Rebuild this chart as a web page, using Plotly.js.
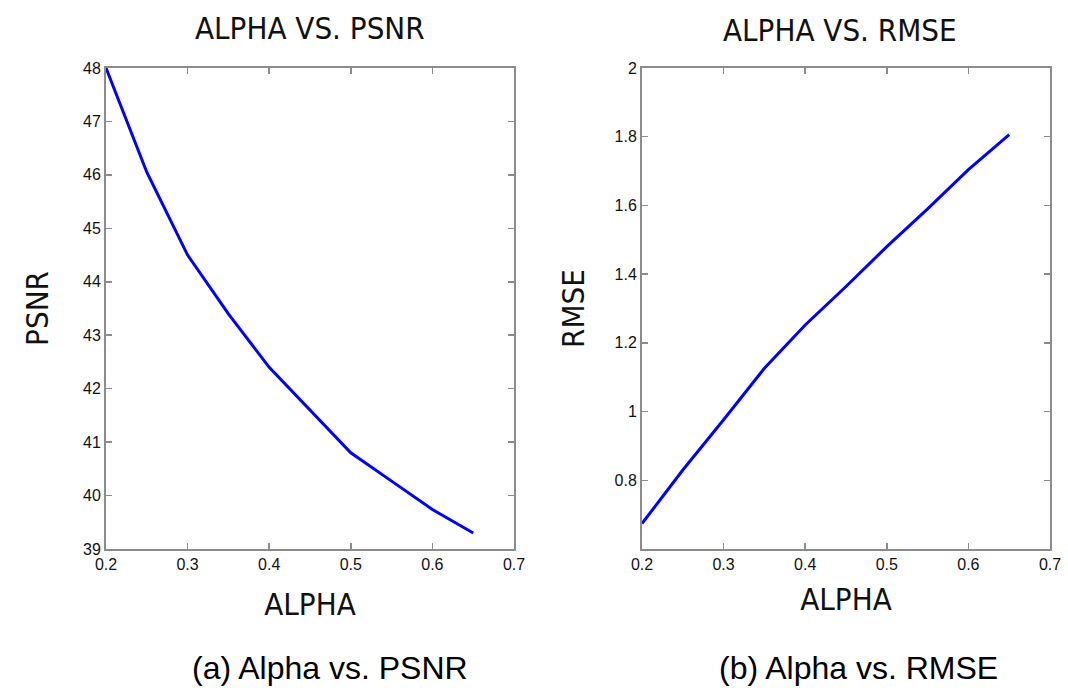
<!DOCTYPE html>
<html>
<head>
<meta charset="utf-8">
<script src="https://cdn.plot.ly/plotly-3.0.1.min.js"></script>
<style>html,body{margin:0;padding:0;background:#fff;}#chart{width:1068px;height:694px;}</style>
</head>
<body>
<div id="chart"></div>
<script>
const alpha = [0.2, 0.25, 0.3, 0.35, 0.4, 0.45, 0.5, 0.55, 0.6, 0.65];
const psnr = [48.0, 46.05, 44.5, 43.4, 42.4, 41.6, 40.8, 40.27, 39.74, 39.3];
const rmse = [0.674, 0.83, 0.976, 1.126, 1.252, 1.364, 1.48, 1.59, 1.704, 1.806];
const xTicks = [0.2, 0.3, 0.4, 0.5, 0.6, 0.7];
const psnrTicks = [39, 40, 41, 42, 43, 44, 45, 46, 47, 48];
const rmseTicks = [0.8, 1, 1.2, 1.4, 1.6, 1.8, 2];
const titles = ["ALPHA VS. PSNR", "ALPHA VS. RMSE"];
const captions = ["(a) Alpha vs. PSNR", "(b) Alpha vs. RMSE"];

const narrow = "DejaVu Sans Condensed, Liberation Sans Narrow, Liberation Sans, sans-serif";
const regular = "Liberation Sans, Arial, sans-serif";
const tsize = 31;

const axisBase = {
  showgrid: false, zeroline: false, showline: true, linecolor: "#8c8c8c", linewidth: 2,
  mirror: "ticks", ticks: "inside", ticklen: 6, tickwidth: 1.5, tickcolor: "#8c8c8c",
  tickfont: {family: regular, size: 16, color: "#111"}
};

const traces = [
  {x: alpha, y: psnr, type: "scatter", mode: "lines", line: {color: "#0000ff", width: 3}, xaxis: "x", yaxis: "y", showlegend: false},
  {x: alpha, y: rmse, type: "scatter", mode: "lines", line: {color: "#0000ff", width: 3}, xaxis: "x2", yaxis: "y2", showlegend: false}
];

const yDom = [1 - 549/694, 1 - 68/694];
const layout = {
  width: 1068, height: 694, margin: {l: 0, r: 0, t: 0, b: 0},
  paper_bgcolor: "#fff", plot_bgcolor: "#fff",
  xaxis: Object.assign({}, axisBase, {domain: [106/1068, 514/1068], range: [0.2, 0.7], tickvals: xTicks, ticktext: xTicks.map(String), anchor: "y",
    title: {text: "ALPHA", font: {family: narrow, size: tsize, color: "#111"}, standoff: 21}}),
  yaxis: Object.assign({}, axisBase, {domain: yDom, range: [39, 48], tickvals: psnrTicks, ticktext: psnrTicks.map(String), anchor: "x",
    title: {text: "PSNR", font: {family: narrow, size: tsize, color: "#111"}, standoff: 25}}),
  xaxis2: Object.assign({}, axisBase, {domain: [642/1068, 1050/1068], range: [0.2, 0.7], tickvals: xTicks, ticktext: xTicks.map(String), anchor: "y2",
    title: {text: "ALPHA", font: {family: narrow, size: tsize, color: "#111"}, standoff: 16}}),
  yaxis2: Object.assign({}, axisBase, {domain: yDom, range: [0.6, 2], tickvals: rmseTicks, ticktext: rmseTicks.map(String), anchor: "x2",
    title: {text: "RMSE", font: {family: narrow, size: tsize, color: "#111"}, standoff: 21}}),
  annotations: [
    {text: titles[0], x: 310/1068, y: 1 - 28/694, xref: "paper", yref: "paper", showarrow: false, xanchor: "center", yanchor: "middle", font: {family: narrow, size: tsize, color: "#111"}},
    {text: titles[1], x: 840/1068, y: 1 - 30/694, xref: "paper", yref: "paper", showarrow: false, xanchor: "center", yanchor: "middle", font: {family: narrow, size: tsize, color: "#111"}},
    {text: captions[0], x: 330/1068, y: 1 - 668/694, xref: "paper", yref: "paper", showarrow: false, xanchor: "center", yanchor: "middle", font: {family: regular, size: 32, color: "#000"}},
    {text: captions[1], x: 858/1068, y: 1 - 668/694, xref: "paper", yref: "paper", showarrow: false, xanchor: "center", yanchor: "middle", font: {family: regular, size: 32, color: "#000"}}
  ]
};

Plotly.newPlot("chart", traces, layout, {displayModeBar: false, staticPlot: true});
</script>
</body>
</html>
